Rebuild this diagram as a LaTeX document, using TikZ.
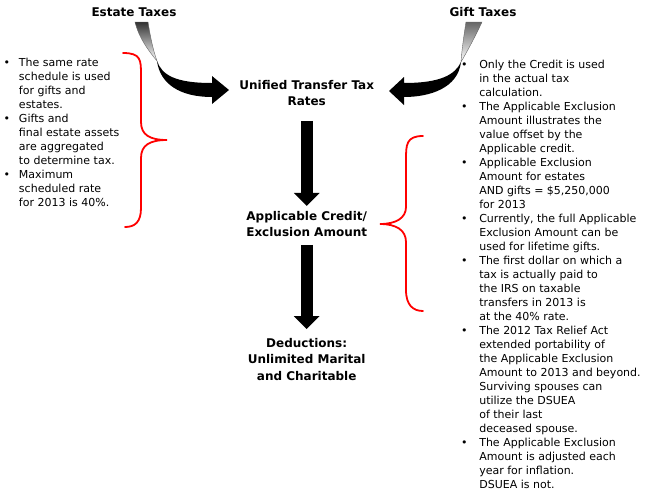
\documentclass[tikz,border=0pt]{standalone}
\usepackage{fontspec}
\setmainfont{DejaVu Sans}
\usetikzlibrary{arrows.meta}
\newcommand{\lbul}{\llap{\textbullet\hspace{9pt}}}
\newcommand{\rbul}{\llap{\textbullet\hspace{11.8pt}}}
\begin{document}
\begin{tikzpicture}[x=1pt,y=-1pt,
  every node/.style={inner sep=0pt, outer sep=0pt},
  title/.style={font=\fontsize{12}{16.5}\selectfont\bfseries},
  note/.style={font=\fontsize{11}{14}\selectfont, anchor=north west},
  downarrow/.style={line width=12pt, -{Triangle[width=25pt,length=13pt]}},
  brace/.style={red, line width=1.8pt, line cap=round},
]
\useasboundingbox (0,0) rectangle (649,496);

% titles
\node[title, anchor=base] (estate) at (134,16) {Estate Taxes};
\node[title, anchor=base] (gift) at (483,16) {Gift Taxes};
\node[title, anchor=north] (rates) at (306.7,77.85)
  {\begin{tabular}{@{}c@{}}Unified Transfer Tax\\Rates\end{tabular}};
\node[title, anchor=north] (credit) at (306.7,208.9)
  {\begin{tabular}{@{}c@{}}Applicable Credit/\\Exclusion Amount\end{tabular}};
\node[title, anchor=north] (ded) at (306.7,335.55)
  {\begin{tabular}{@{}c@{}}Deductions:\\Unlimited Marital\\and Charitable\end{tabular}};

% down arrows
\draw[downarrow, shorten <=10pt, shorten >=3pt] (rates.south) -- (credit.north);
\draw[downarrow, shorten <=3pt, shorten >=6.5pt] (credit.south) -- (ded.north);

% estate curved arrow
\shade[top color=black!80, bottom color=white, draw=black!60, line width=0.4pt]
  (135,22) -- (148,22) .. controls (150,35) and (153,50) .. (157,61)
  .. controls (148,50) and (139,38) .. (135,22) -- cycle;
\fill[black] (157,61) .. controls (162,75) and (175,83) .. (212,83)
  -- (212,76) -- (229,90) -- (212,104) -- (212,97)
  .. controls (180,97) and (160,84) .. (157,61) -- cycle;

% gift curved arrow
\shade[top color=black!60, bottom color=white, draw=black!60, line width=0.4pt]
  (466,22) -- (482,22) .. controls (476,35) and (468,50) .. (461,62)
  .. controls (462,48) and (464,35) .. (466,22) -- cycle;
\fill[black] (461,62) .. controls (455,75) and (440,83) .. (404,83)
  -- (404,77) -- (389,91) -- (404,105) -- (404,97)
  .. controls (430,97) and (458,88) .. (461,62) -- cycle;

% braces
\draw[brace] (123,53) .. controls (141,53) and (141,60) .. (141,75) -- (141,122)
  .. controls (141,135) and (150,140) .. (167,140)
  .. controls (150,140) and (141,145) .. (141,158) -- (141,208)
  .. controls (141,222) and (135,227) .. (125,227);
\draw[brace] (423,136) .. controls (406,136) and (406,145) .. (406,160) -- (406,207)
  .. controls (406,218) and (396,224) .. (380,224)
  .. controls (396,224) and (406,230) .. (406,242) -- (406,290)
  .. controls (406,305) and (413,311) .. (423,311);

% notes
\node[note] (lefttext) at (19,56.2) {\begin{tabular}{@{}l@{}}
\lbul The same rate\\
schedule is used\\
for gifts and\\
estates.\\
\lbul Gifts and\\
final estate assets\\
are aggregated\\
to determine tax.\\
\lbul Maximum\\
scheduled rate\\
for 2013 is 40\%.
\end{tabular}};

\node[note] (righttext) at (479.3,58.2) {\begin{tabular}{@{}l@{}}
\rbul Only the Credit is used\\
in the actual tax\\
calculation.\\
\rbul The Applicable Exclusion\\
Amount illustrates the\\
value offset by the\\
Applicable credit.\\
\rbul Applicable Exclusion\\
Amount for estates\\
AND gifts = \$5,250,000\\
for 2013\\
\rbul Currently, the full Applicable\\
Exclusion Amount can be\\
used for lifetime gifts.\\
\rbul The first dollar on which a\\
tax is actually paid to\\
the IRS on taxable\\
transfers in 2013 is\\
at the 40\% rate.\\
\rbul The 2012 Tax Relief Act\\
extended portability of\\
the Applicable Exclusion\\
Amount to 2013 and beyond.\\
Surviving spouses can\\
utilize the DSUEA\\
of their last\\
deceased spouse.\\
\rbul The Applicable Exclusion\\
Amount is adjusted each\\
year for inflation.\\
DSUEA is not.
\end{tabular}};
\end{tikzpicture}
\end{document}
